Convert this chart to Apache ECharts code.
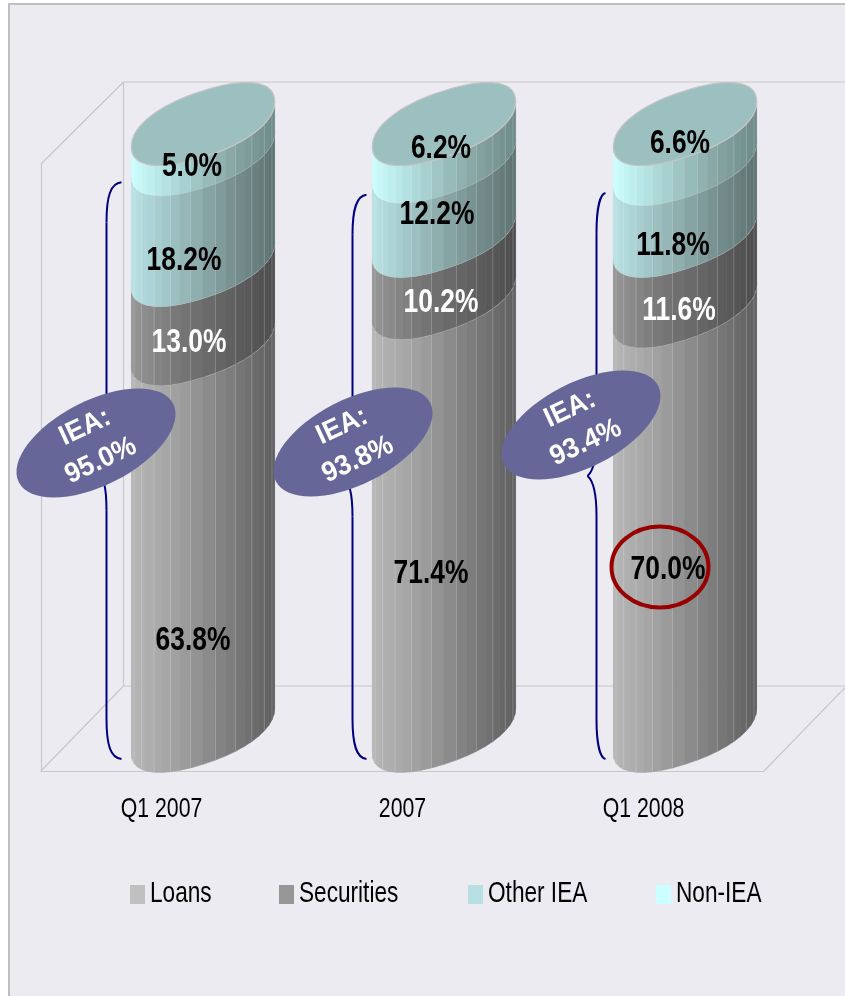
<!DOCTYPE html>
<html><head><meta charset="utf-8">
<style>html,body{margin:0;padding:0;background:#fff}#c{width:845px;height:996px}</style>
<script src="https://cdn.jsdelivr.net/npm/echarts@6/dist/echarts.min.js"></script>
</head><body><div id="c"></div>
<script>
const categories = ['Q1 2007', '2007', 'Q1 2008'];
const loans = [63.8, 71.4, 70.0];
const securities = [13.0, 10.2, 11.6];
const otherIEA = [18.2, 12.2, 11.8];
const nonIEA = [5.0, 6.2, 6.6];
const ieaShare = [95.0, 93.8, 93.4];
const highlightedCategory = 'Q1 2008';
const seriesNames = ['Loans', 'Securities', 'Other IEA', 'Non-IEA'];
const seriesValues = [loans, securities, otherIEA, nonIEA];

// styling and layout
const legendColors = ['#c0c0c0', '#969696', '#b8e0e2', '#ccffff'];
const legendLeft = [130, 279, 468, 656];
const ramps = [
  ['#b6b6b6', '#a2a2a2', '#7a7a7a', '#5e5e5e'],
  ['#969696', '#797979', '#5f5f5f', '#4c4c4c'],
  ['#b9e3e5', '#9dc0c1', '#77908f', '#5c7270'],
  ['#ccffff', '#aedada', '#86a5a3', '#6c8a88']
];
const labelColors = ['#000', '#fff', '#000', '#000'];
const labelNudge = [
  [[31.5, 62.6], [27.5, -2.3], [22.5, 10.4], [30.5, -13.2]],
  [[28.5, 18.7], [38.5, -4.6], [34.5, -24.7], [38.5, -34.8]],
  [[24.5, 10.4], [35.5, -0.9], [29.5, 5.1], [36.5, -41]]
];
const ovalNudge = [[-65.5, -328], [-49.5, -329], [-62.5, -346]];
const braceX = [[-55, -40, -65], [-50, -36, -60], [-47, -38, -56]];
const braceTopLift = [12, 7, 11];
const cylDepth = [41.5, -40];
const frameColor = '#c8c8c8', STRIPS = 22;
const sans = '"Liberation Sans",Arial,sans-serif';

function hex(c){return [1,3,5].map(i=>parseInt(c.substr(i,2),16));}
function ramp(r,u){
  const p=[0,.3,.72,1];let i=0;while(i<2&&u>p[i+1])i++;
  const k=(u-p[i])/(p[i+1]-p[i]),a=hex(r[i]),b=hex(r[i+1]);
  return 'rgb('+a.map((v,j)=>Math.round(v+(b[j]-v)*k)).join(',')+')';
}
function sp(v){return Math.sign(v)*Math.pow(Math.abs(v),0.9);}
function ellipsePt(cx,cy,rx,t){
  const c=sp(Math.cos(t)),s=sp(Math.sin(t));
  return [cx+rx*c, cy-0.315*rx*c+0.465*rx*s];
}
function cylRadius(api){return api.size([1,0])[0]*0.297;}

function segmentRender(si){
  return function(params,api){
    const c=api.value(0),base=api.value(1),top=api.value(2);
    const p0=api.coord([c,base]),p1=api.coord([c,top]);
    const cx=p0[0]+cylDepth[0],y0=p0[1]+cylDepth[1],y1=p1[1]+cylDepth[1],rx=cylRadius(api);
    const children=[];
    for(let i=0;i<STRIPS;i++){
      const t1=Math.PI*(STRIPS-i)/STRIPS,t2=Math.PI*(STRIPS-i-1)/STRIPS;
      const a=ellipsePt(cx,y0,rx,t1),b=ellipsePt(cx,y0,rx,t2),d=ellipsePt(cx,y1,rx,t1),e=ellipsePt(cx,y1,rx,t2);
      const u=((a[0]+b[0])/2-(cx-rx))/(2*rx),col=ramp(ramps[si],u);
      children.push({type:'polygon',shape:{points:[a,b,e,d]},style:{fill:col,stroke:col,lineWidth:.6}});
      if(i>0&&i%2===0)children.push({type:'line',shape:{x1:a[0],y1:a[1],x2:d[0],y2:d[1]},style:{stroke:'rgba(255,255,255,.2)',lineWidth:1}});
    }
    const arc=[];
    for(let i=0;i<=44;i++)arc.push(ellipsePt(cx,y1,rx,Math.PI*i/44));
    children.push({type:'polyline',shape:{points:arc},style:{stroke:'#c4c4c4',lineWidth:1.2,fill:null}});
    if(si===3){
      const cap=[];for(let i=0;i<72;i++)cap.push(ellipsePt(cx,y1,rx,2*Math.PI*i/72));
      children.push({type:'polygon',shape:{points:cap},style:{fill:'#9cc0bf',stroke:'#c4c4c4',lineWidth:1.2}});
    }
    return {type:'group',children};
  };
}

function frameRender(params){
  const g=params.coordSys,tl=[g.x,g.y],bl=[g.x,g.y+g.height],br=[g.x+g.width,g.y+g.height];
  const ln=(a,b)=>({type:'line',shape:{x1:a[0],y1:a[1],x2:b[0],y2:b[1]},style:{stroke:frameColor,lineWidth:1.2}});
  const tlb=[tl[0]+82.5,tl[1]-82],blb=[bl[0]+82.5,bl[1]-85],brb=[br[0]+82.5,br[1]-85];
  return {type:'group',children:[
    ln(tl,tlb),ln(tlb,blb),ln(tlb,[brb[0],tlb[1]]),ln(bl,blb),ln(blb,brb),ln(br,brb)
  ]};
}

function tickLabelRender(params,api){
  const p=api.coord([api.value(0),0]);
  return {type:'text',x:p[0],y:p[1]+38,scaleX:0.76,style:{text:categories[api.value(0)],fill:'#000',font:'28px '+sans,align:'center',verticalAlign:'middle'}};
}

function overlayRender(params,api){
  const c=api.value(0),iea=api.value(1);
  const base=api.coord([c,0]),top=api.coord([c,iea]);
  const bx=base[0],navy='#000080',ch=[];
  const vx=bx+braceX[c][0],tipx=bx+braceX[c][1],midx=bx+braceX[c][2];
  const yT=top[1]-braceTopLift[c],yB=base[1]-12,yM=(yT+yB)/2;
  const bz=(x1,y1,cx1,cy1,cx2,cy2,x2,y2)=>({type:'bezierCurve',shape:{x1,y1,cpx1:cx1,cpy1:cy1,cpx2:cx2,cpy2:cy2,x2,y2},style:{stroke:navy,lineWidth:2,fill:null}});
  const li=(x1,y1,x2,y2)=>({type:'line',shape:{x1,y1,x2,y2},style:{stroke:navy,lineWidth:2}});
  ch.push(bz(tipx,yT,vx+4,yT+1,vx,yT+14,vx,yT+40));
  ch.push(li(vx,yT+40,vx,yM-40));
  ch.push(bz(vx,yM-40,vx,yM-16,vx-3,yM-5,midx,yM));
  ch.push(bz(midx,yM,vx-3,yM+5,vx,yM+16,vx,yM+40));
  ch.push(li(vx,yM+40,vx,yB-40));
  ch.push(bz(vx,yB-40,vx,yB-14,vx+4,yB-1,tipx,yB));
  const ox=bx+ovalNudge[c][0],oy=base[1]+ovalNudge[c][1],rot=27*Math.PI/180;
  ch.push({type:'ellipse',shape:{cx:0,cy:0,rx:86.6,ry:42.4},x:ox,y:oy,rotation:rot,style:{fill:'#666699'}});
  ch.push({type:'text',x:ox-3,y:oy+1,rotation:25*Math.PI/180,scaleX:.95,style:{text:'IEA:\n'+iea.toFixed(1)+'%',fill:'#fff',font:'bold 28px '+sans,lineHeight:37,align:'center',verticalAlign:'middle'}});
  if(categories[c]===highlightedCategory){
    ch.push({type:'ellipse',shape:{cx:bx+16.5,cy:base[1]-204,rx:48.5,ry:40.5},style:{fill:null,stroke:'#990000',lineWidth:4}});
  }
  return {type:'group',children:ch};
}

function labelRender(params,api){
  const c=api.value(0),si=api.value(1),v=api.value(2),mid=api.value(3);
  const p=api.coord([c,mid]),n=labelNudge[c][si];
  return {type:'text',x:p[0]+n[0],y:p[1]+n[1]+1,scaleX:0.8,style:{text:v.toFixed(1)+'%',fill:labelColors[si],font:'bold 33px '+sans,align:'center',verticalAlign:'middle'}};
}

const segSeries=[],labelData=[];
const running=categories.map(()=>0);
seriesNames.forEach((name,si)=>{
  const data=categories.map((_,c)=>{
    const b=running[c],t=b+seriesValues[si][c];running[c]=t;
    labelData.push([c,si,seriesValues[si][c],(b+t)/2]);
    return [c,b,t];
  });
  segSeries.push({name,type:'custom',coordinateSystem:'cartesian2d',data,encode:{x:0,y:[1,2]},
    itemStyle:{color:legendColors[si]},renderItem:segmentRender(si),silent:true,z:3+si});
});

const legendGraphics=[];
seriesNames.forEach((name,i)=>{
  legendGraphics.push({type:'rect',z:20,shape:{x:legendLeft[i],y:885,width:15,height:19},style:{fill:legendColors[i]}});
  legendGraphics.push({type:'text',z:20,x:legendLeft[i]+20,y:894,scaleX:0.78,style:{text:name,fill:'#000',font:'29px '+sans,align:'left',verticalAlign:'middle'}});
});

const chart=echarts.init(document.getElementById('c'),null,{renderer:'canvas'});
chart.setOption({
  animation:false,
  backgroundColor:'#ffffff',
  graphic:[{type:'rect',z:-10,shape:{x:9,y:4,width:840,height:1000},style:{fill:'#ecebf1',stroke:'#bfbfbf',lineWidth:2}},...legendGraphics],
  grid:{left:41,top:164,width:723,height:607},
  xAxis:{type:'category',data:categories,axisTick:{show:false},
    axisLine:{lineStyle:{color:frameColor,width:1.2}},axisLabel:{show:false}},
  yAxis:{type:'value',min:0,max:100,interval:20,splitLine:{show:false},axisTick:{show:false},axisLabel:{show:false},
    axisLine:{show:true,lineStyle:{color:frameColor,width:1.2}}},
  series:[
    {type:'custom',name:'frame',renderItem:frameRender,data:[[0,0]],encode:{x:0,y:1},silent:true,z:1},
    {type:'custom',name:'ticks',renderItem:tickLabelRender,data:categories.map((_,c)=>[c,0]),encode:{x:0,y:1},silent:true,z:2},
    ...segSeries,
    {type:'custom',name:'iea',renderItem:overlayRender,data:ieaShare.map((v,c)=>[c,v]),encode:{x:0,y:1},silent:true,z:8},
    {type:'custom',name:'labels',renderItem:labelRender,data:labelData,encode:{x:0,y:3},silent:true,z:9}
  ]
});
</script></body></html>
